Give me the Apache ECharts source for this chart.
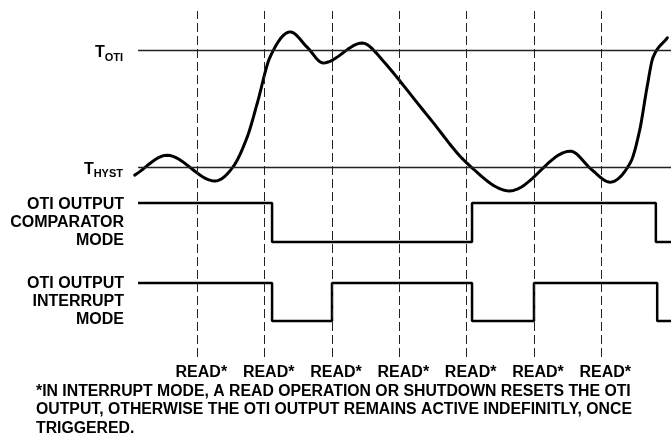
<!DOCTYPE html>
<html>
<head>
<meta charset="utf-8">
<script src="https://cdn.jsdelivr.net/npm/echarts@6/dist/echarts.min.js"></script>
<style>
html, body { margin: 0; padding: 0; background: #fff; }
#chart { width: 671px; height: 434px; }
</style>
</head>
<body>
<div id="chart"></div>
<script>
// read operations (dashed lines), time in read periods
let readTimes = [1, 2, 3, 4, 5, 6, 7];
let readLabel = 'READ*';
let tEnd = 8.035;
let tStart = 0.12;

// temperature thresholds
let tOti = 80;
let tHyst = 60;

// temperature curve [time, temp], extremes and turning points
let tempCurve = [
    [0.07, 58.6], [0.55, 62.0], [1.26, 57.6], [1.53, 60.0],
    [1.74, 65.1], [1.89, 70.9], [2.08, 78.8], [2.38, 83.1], [2.63, 80.5],
    [2.87, 77.8], [3.45, 81.2], [3.71, 78.8], [4.46, 68.2],
    [5.00, 60.7], [5.64, 55.9], [6.54, 62.7], [6.86, 59.5],
    [7.13, 57.4], [7.43, 60.7], [7.57, 66.3], [7.68, 73.7], [7.77, 78.8],
    [7.98, 82.1]
];

// OTI output levels [time, level], level holds until next point
let comparatorOut = [[0.12, 1], [2.11, 0], [5.08, 1], [7.81, 0], [8.035, 0]];
let interruptOut = [[0.12, 1], [2.11, 0], [3.0, 1], [5.08, 0], [6.0, 1], [7.83, 0], [8.035, 0]];

let footNote = '*IN INTERRUPT MODE, A READ OPERATION OR SHUTDOWN RESETS THE OTI\n' +
    'OUTPUT, OTHERWISE THE OTI OUTPUT REMAINS ACTIVE INDEFINITLY, ONCE\n' +
    'TRIGGERED.';

let font = 'Arial, "Liberation Sans", sans-serif';

// cubic hermite through pixel points, flat at extremes, limited to avoid overshoot
function smoothPoints(pts, steps) {
    let n = pts.length;
    let d = [], m = [];
    for (let k = 0; k < n - 1; k++) {
        d.push((pts[k + 1][1] - pts[k][1]) / (pts[k + 1][0] - pts[k][0]));
    }
    m[0] = d[0];
    m[n - 1] = d[n - 2];
    for (let k = 1; k < n - 1; k++) {
        if (d[k - 1] * d[k] <= 0) {
            m[k] = 0;
        } else {
            m[k] = (pts[k + 1][1] - pts[k - 1][1]) / (pts[k + 1][0] - pts[k - 1][0]);
        }
    }
    for (let k = 0; k < n - 1; k++) {
        if (d[k] === 0) { m[k] = 0; m[k + 1] = 0; continue; }
        let a = m[k] / d[k], b = m[k + 1] / d[k];
        let s = a * a + b * b;
        if (s > 9) {
            let tau = 3 / Math.sqrt(s);
            m[k] = tau * a * d[k];
            m[k + 1] = tau * b * d[k];
        }
    }
    let out = [pts[0]];
    for (let k = 0; k < n - 1; k++) {
        let x0 = pts[k][0], y0 = pts[k][1], x1 = pts[k + 1][0], y1 = pts[k + 1][1];
        let h = x1 - x0;
        for (let s = 1; s <= steps; s++) {
            let u = s / steps;
            let h00 = 2 * u * u * u - 3 * u * u + 1;
            let h10 = u * u * u - 2 * u * u + u;
            let h01 = -2 * u * u * u + 3 * u * u;
            let h11 = u * u * u - u * u;
            out.push([x0 + h * u, h00 * y0 + h10 * h * m[k] + h01 * y1 + h11 * h * m[k + 1]]);
        }
    }
    return out;
}

(function () {
    let myChart = echarts.init(document.getElementById('chart'));

    function hiddenX(i) {
        return { type: 'value', gridIndex: i, min: 0, max: tEnd, show: false };
    }
    function levelAxis(i, text) {
        return {
            type: 'value', gridIndex: i, min: 0, max: 1,
            axisLine: { show: false }, axisTick: { show: false }, splitLine: { show: false },
            axisLabel: {
                customValues: [0.5],
                margin: 6,
                formatter: function () { return text; },
                color: '#000', fontFamily: font, fontWeight: 'bold', fontSize: 16,
                lineHeight: 18, align: 'right'
            }
        };
    }
    function levelSeries(i, data) {
        return {
            type: 'line', xAxisIndex: i, yAxisIndex: i, step: 'end',
            data: data, symbol: 'none', clip: false, silent: true,
            lineStyle: { color: '#000', width: 2.5 }
        };
    }

    let option = {
        animation: false,
        title: {
            text: footNote, left: 36, top: 382, padding: 0,
            textStyle: { color: '#000', fontFamily: font, fontWeight: 'bold', fontSize: 15.8, lineHeight: 18.5 }
        },
        grid: [
            { left: 130, right: 0, top: 11, bottom: 77 },
            { left: 130, right: 0, top: 15, height: 187 },
            { left: 130, right: 0, top: 203, height: 39 },
            { left: 130, right: 0, top: 283, height: 38 }
        ],
        xAxis: [
            {
                type: 'value', gridIndex: 0, min: 0, max: tEnd,
                axisLine: { show: false }, axisTick: { show: false }, splitLine: { show: false },
                axisLabel: {
                    customValues: readTimes,
                    margin: 8,
                    padding: [0, 0, 0, 8],
                    formatter: function () { return readLabel; },
                    color: '#000', fontFamily: font, fontWeight: 'bold', fontSize: 16
                }
            },
            hiddenX(1), hiddenX(2), hiddenX(3)
        ],
        yAxis: [
            { type: 'value', gridIndex: 0, min: 0, max: 1, show: false },
            {
                type: 'value', gridIndex: 1, min: 54, max: 86,
                axisLine: { show: false }, axisTick: { show: false }, splitLine: { show: false },
                axisLabel: {
                    customValues: [tHyst, tOti],
                    margin: 7,
                    padding: [6, 0, 0, 0],
                    formatter: function (v) {
                        return v === tOti ? '{t|T}{s|OTI}' : '{t|T}{s|HYST}';
                    },
                    rich: {
                        t: { color: '#000', fontFamily: font, fontWeight: 'bold', fontSize: 16, lineHeight: 20 },
                        s: { color: '#000', fontFamily: font, fontWeight: 'bold', fontSize: 11, lineHeight: 20, verticalAlign: 'bottom' }
                    }
                }
            },
            levelAxis(2, 'OTI OUTPUT\nCOMPARATOR\nMODE'),
            levelAxis(3, 'OTI OUTPUT\nINTERRUPT\nMODE')
        ],
        series: [
            {
                type: 'line', xAxisIndex: 0, yAxisIndex: 0, data: [], silent: true,
                markLine: {
                    symbol: 'none', silent: true, animation: false,
                    label: { show: false },
                    lineStyle: { color: '#222', width: 1, type: [9, 4] },
                    data: readTimes.map(function (t) { return { xAxis: t }; })
                }
            },
            {
                // thresholds
                type: 'line', xAxisIndex: 1, yAxisIndex: 1, data: [], silent: true,
                markLine: {
                    symbol: 'none', silent: true, animation: false,
                    label: { show: false },
                    lineStyle: { color: '#222', width: 1.4, type: 'solid' },
                    data: [
                        [{ coord: [tStart, tOti] }, { coord: [tEnd, tOti] }],
                        [{ coord: [tStart, tHyst] }, { coord: [tEnd, tHyst] }]
                    ]
                }
            },
            {
                // temperature curve
                type: 'custom', xAxisIndex: 1, yAxisIndex: 1, data: tempCurve,
                clip: false, silent: true,
                encode: { x: 0, y: 1 },
                renderItem: function (params, api) {
                    if (params.dataIndex !== 0) return;
                    let px = tempCurve.map(function (p) { return api.coord(p); });
                    return {
                        type: 'polyline',
                        shape: { points: smoothPoints(px, 16) },
                        style: { stroke: '#000', lineWidth: 3, fill: null, lineJoin: 'round', lineCap: 'round' }
                    };
                }
            },
            levelSeries(2, comparatorOut),
            levelSeries(3, interruptOut)
        ]
    };
    myChart.setOption(option);
    window.addEventListener('resize', function () {
        myChart.resize();
    });
})();
</script>
</body>
</html>
